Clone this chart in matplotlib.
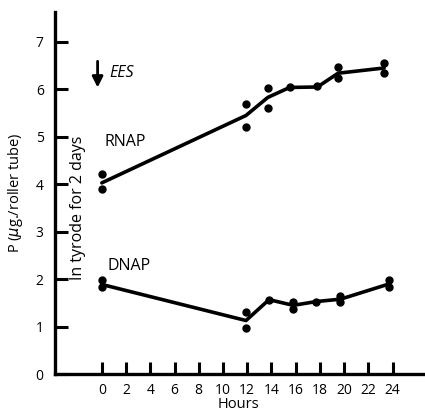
import numpy as np
import matplotlib.pyplot as plt

plt.rcParams['font.family'] = ['Open Sans', 'DejaVu Sans']

# RNAP: individual points and mean line
rnap_pt_x = [0, 0, 11.9, 11.9, 13.7, 13.7, 15.5, 17.8, 19.5, 19.5, 23.3, 23.3]
rnap_pt_y = [4.21, 3.9, 5.70, 5.21, 6.02, 5.61, 6.04, 6.07, 6.47, 6.23, 6.56, 6.34]
rnap_ln_x = [0, 11.9, 13.7, 15.5, 17.8, 19.5, 23.3]
rnap_ln_y = [4.03, 5.45, 5.83, 6.04, 6.05, 6.34, 6.45]

# DNAP
dnap_pt_x = [0, 0, 11.9, 11.9, 13.8, 15.8, 15.8, 17.7, 19.7, 19.7, 23.7, 23.7]
dnap_pt_y = [1.98, 1.83, 1.30, 0.98, 1.57, 1.53, 1.38, 1.53, 1.64, 1.51, 1.98, 1.83]
dnap_ln_x = [0, 11.9, 13.8, 15.8, 17.7, 19.7, 23.7]
dnap_ln_y = [1.89, 1.13, 1.57, 1.45, 1.53, 1.58, 1.90]

xticks = list(range(0, 25, 2))
yticks = list(range(0, 8))

fig = plt.figure(figsize=(4.25, 4.13), dpi=100)
ax = fig.add_axes([0.129, 0.094, 0.866, 0.877])

ax.plot(rnap_ln_x, rnap_ln_y, color='black', lw=2.6, solid_capstyle='round')
ax.plot(rnap_pt_x, rnap_pt_y, 'o', color='black', ms=5)
ax.plot(dnap_ln_x, dnap_ln_y, color='black', lw=2.6, solid_capstyle='round')
ax.plot(dnap_pt_x, dnap_pt_y, 'o', color='black', ms=5)

ax.set_xlim(-3.88, 26.5)
ax.set_ylim(0, 7.63)
ax.set_xticks(xticks)
ax.set_yticks(yticks)
ax.tick_params(direction='in', length=9, width=2.2, labelsize=10, pad=6)
ax.tick_params(axis='y', pad=8)
for s in ['top', 'right']:
    ax.spines[s].set_visible(False)
for s in ['left', 'bottom']:
    ax.spines[s].set_linewidth(2.4)

ax.set_xlabel('Hours', fontsize=10.5)
ax.xaxis.set_label_coords(0.5, -0.062)
ax.set_ylabel('P ($\\mu$g./roller tube)', fontsize=10.5, labelpad=8)

ax.annotate('', xy=(-0.35, 5.98), xytext=(-0.35, 6.65),
            arrowprops=dict(arrowstyle='-|>', color='black', lw=2, mutation_scale=16))
ax.text(0.6, 6.35, 'EES', fontsize=11.5, style='italic', va='center')
ax.text(0.2, 4.9, 'RNAP', fontsize=11.5, va='center')
ax.text(0.5, 2.27, 'DNAP', fontsize=11.5, va='center')
ax.text(-2.0, 3.5, 'In tyrode for 2 days', fontsize=11.5, rotation=90,
        va='center', ha='center')

fig.savefig('out.png', dpi=100)
